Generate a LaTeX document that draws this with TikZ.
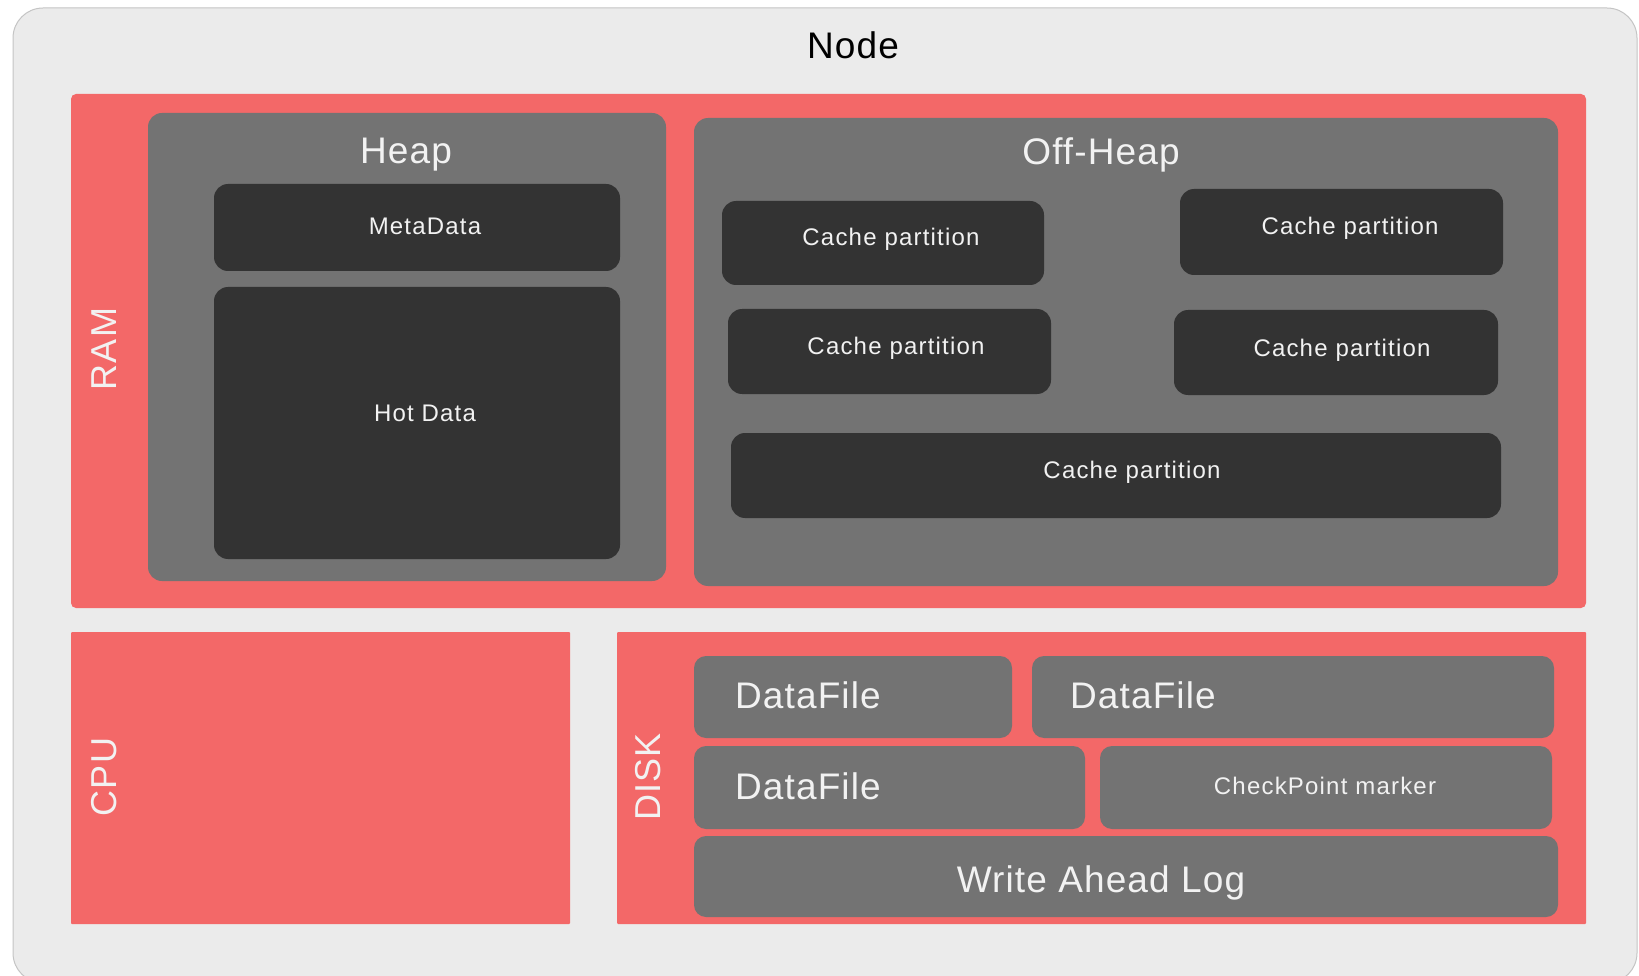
\documentclass[tikz,border=0pt]{standalone}
\usepackage{fontspec}
\setmainfont{Liberation Sans}
\newfontfamily\smallfam[LetterSpace=5]{Liberation Sans}
\newfontfamily\bigfam[LetterSpace=3]{Liberation Sans}
\definecolor{bgc}{HTML}{EBEBEB}
\definecolor{bordc}{HTML}{C4C4C4}
\definecolor{redc}{HTML}{F36868}
\definecolor{grayc}{HTML}{737373}
\definecolor{darkc}{HTML}{333333}
\definecolor{txtc}{HTML}{F2F2F2}
\tikzset{
  x=1pt, y=-1pt,
  box/.style={inner sep=0pt, outer sep=0pt, rectangle},
  outerbox/.style={box, fill=bgc, draw=bordc, line width=1pt, rounded corners=30pt},
  redbox/.style={box, fill=redc, rounded corners=5pt},
  redsq/.style={box, fill=redc, rounded corners=1pt},
  graybox/.style={box, fill=grayc, rounded corners=14pt},
  diskbox/.style={box, fill=grayc, rounded corners=12pt, text=txtc, font=\bigfam\fontsize{37}{40}\selectfont},
  darkbox/.style={box, fill=darkc, rounded corners=14pt, text=txtc, font=\smallfam\fontsize{24}{28}\selectfont},
  smalltxt/.style={inner sep=0pt, text=txtc, font=\smallfam\fontsize{24}{28}\selectfont},
  bigtxt/.style={inner sep=0pt, text=txtc, font=\bigfam\fontsize{37}{40}\selectfont},
  sidetxt/.style={inner sep=0pt, text=txtc, rotate=90, font=\bigfam\fontsize{36}{40}\selectfont},
}
\begin{document}
\begin{tikzpicture}
\useasboundingbox (0,0) rectangle (1639,976);
\clip (0,0) rectangle (1639,976);
% outer node
\node[outerbox, minimum width=1624pt, minimum height=975pt] (outer) at (825,495.5) {};
\node[inner sep=0pt, text=black, font=\bigfam\fontsize{37}{40}\selectfont] (nodelbl) at (853,45) {Node};
% RAM
\node[redbox, minimum width=1515pt, minimum height=514pt] (ram) at (828.5,351) {};
\node[sidetxt] (ramlbl) at (104.5,349) {RAM};
% Heap
\node[graybox, minimum width=518pt, minimum height=468pt] (heap) at (407,347) {};
\node[bigtxt] (heaplbl) at (406,155) {Heap};
\node[darkbox, minimum width=406pt, minimum height=87pt] (meta) at (417,227.5) {};
\node[smalltxt] (metalbl) at (425,226) {MetaData};
\node[darkbox, minimum width=406pt, minimum height=272pt] (hot) at (417,423) {};
\node[smalltxt] (hotlbl) at (425,413) {Hot Data};
% Off-Heap
\node[graybox, minimum width=864pt, minimum height=468pt] (offheap) at (1126,352) {};
\node[bigtxt] (offheaplbl) at (1101,155) {Off-Heap};
\node[darkbox, minimum width=322pt, minimum height=84pt] (cp1) at (883,243) {};
\node[smalltxt] (cp1lbl) at (891,239) {Cache partition};
\node[darkbox, minimum width=323pt, minimum height=86pt] (cp2) at (1341.5,232) {};
\node[smalltxt] (cp2lbl) at (1350,228) {Cache partition};
\node[darkbox, minimum width=323pt, minimum height=85pt] (cp3) at (889.5,351.5) {};
\node[smalltxt] (cp3lbl) at (896,348) {Cache partition};
\node[darkbox, minimum width=324pt, minimum height=85pt] (cp4) at (1336,352.5) {};
\node[smalltxt] (cp4lbl) at (1342,350) {Cache partition};
\node[darkbox, minimum width=770pt, minimum height=85pt] (cp5) at (1116,475.5) {};
\node[smalltxt] (cp5lbl) at (1132,472) {Cache partition};
% CPU
\node[redsq, minimum width=499pt, minimum height=292pt] (cpu) at (320.5,778) {};
\node[sidetxt] (cpulbl) at (104.5,777) {CPU};
% DISK
\node[redsq, minimum width=969pt, minimum height=292pt] (disk) at (1101.5,778) {};
\node[sidetxt] (disklbl) at (648,777) {DISK};
\node[diskbox, minimum width=318pt, minimum height=82pt] (df1) at (853,697) {};
\node[bigtxt, anchor=west] (df1lbl) at (735,695) {DataFile};
\node[diskbox, minimum width=522pt, minimum height=82pt] (df2) at (1293,697) {};
\node[bigtxt, anchor=west] (df2lbl) at (1070,695) {DataFile};
\node[diskbox, minimum width=391pt, minimum height=83pt] (df3) at (889.5,787.5) {};
\node[bigtxt, anchor=west] (df3lbl) at (735,786) {DataFile};
\node[diskbox, minimum width=452pt, minimum height=83pt] (cpm) at (1326,787.5) {};
\node[smalltxt] (cpmlbl) at (1325,786) {CheckPoint marker};
\node[diskbox, minimum width=864pt, minimum height=81pt] (wal) at (1126,876.5) {};
\node[bigtxt] (wallbl) at (1101,883) {Write Ahead Log};
\end{tikzpicture}
\end{document}
